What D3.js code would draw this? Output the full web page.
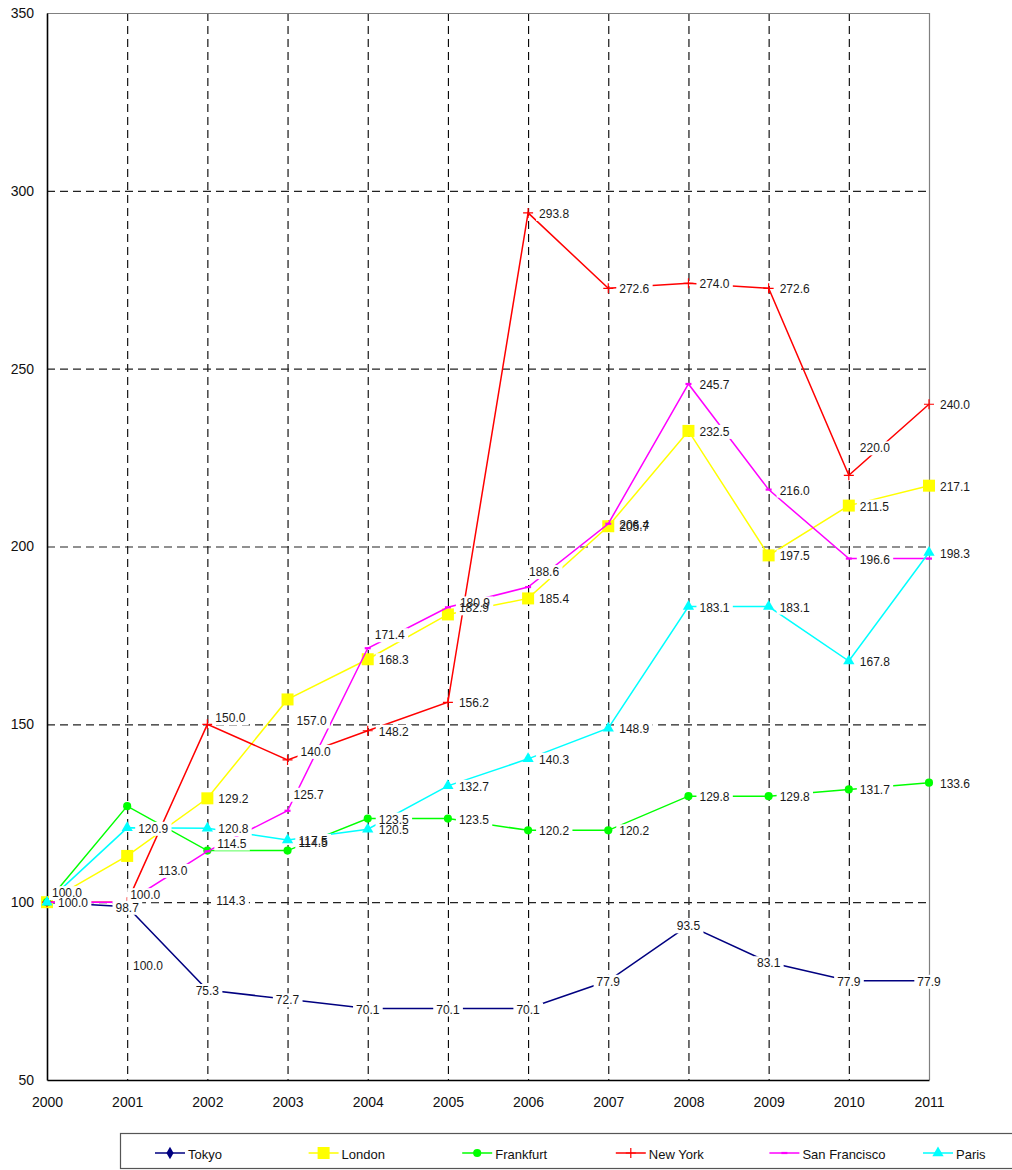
<!DOCTYPE html>
<html>
<head>
<meta charset="utf-8">
<script src="https://cdn.jsdelivr.net/npm/d3@7"></script>
<style>
  body { margin: 0; background: #fff; }
  svg { display: block; }
  text { font-family: "Liberation Sans", Arial, sans-serif; }
</style>
</head>
<body>
<svg id="chart" width="1012" height="1170"></svg>
<script>
// ---- data -------------------------------------------------------------
const years = [2000, 2001, 2002, 2003, 2004, 2005, 2006, 2007, 2008, 2009, 2010, 2011];
const yTicks = [50, 100, 150, 200, 250, 300, 350];

const tokyo        = [100.0, 98.7, 75.3, 72.7, 70.1, 70.1, 70.1, 77.9, 93.5, 83.1, 77.9, 77.9];
const london       = [100.0, 113.0, 129.2, 157.0, 168.3, 180.9, 185.4, 205.7, 232.5, 197.5, 211.5, 217.1];
const frankfurt    = [100.0, 127.0, 114.5, 114.5, 123.5, 123.5, 120.2, 120.2, 129.8, 129.8, 131.7, 133.6];
const newYork      = [100.0, 100.0, 150.0, 140.0, 148.2, 156.2, 293.8, 272.6, 274.0, 272.6, 220.0, 240.0];
const sanFrancisco = [100.0, 100.0, 114.3, 125.7, 171.4, 182.9, 188.6, 206.4, 245.7, 216.0, 196.6, 196.6];
const paris        = [100.0, 120.9, 120.8, 117.5, 120.5, 132.7, 140.3, 148.9, 183.1, 183.1, 167.8, 198.3];

const seriesNames  = ["Tokyo", "London", "Frankfurt", "New York", "San Francisco", "Paris"];
const seriesValues = [tokyo, london, frankfurt, newYork, sanFrancisco, paris];

// ---- styling / layout -------------------------------------------------
const seriesColors  = ["#000080", "#FFFF00", "#00FF00", "#FF0000", "#FF00FF", "#00FFFF"];
const seriesMarkers = ["diamond", "square", "circle", "plus", "dash", "triangle"];

// value labels sit right of the point by default (Tokyo: centred on it);
// a few are moved to keep them readable
const labelNudges = [
  { series: "Tokyo",         year: 2000, dx: 101, dy: 64 },
  { series: "Frankfurt",     year: 2000, dx: 5,   dy: -9 },
  { series: "Frankfurt",     year: 2002, dx: 10,  dy: -7 },
  { series: "Frankfurt",     year: 2003, dx: 11,  dy: -8 },
  { series: "London",        year: 2001, dx: 31,  dy: 15 },
  { series: "London",        year: 2003, dx: 9,   dy: 22 },
  { series: "London",        year: 2005, dx: 12,  dy: -11 },
  { series: "New York",      year: 2001, dx: 3,   dy: -7 },
  { series: "New York",      year: 2002, dx: 8,   dy: -6 },
  { series: "New York",      year: 2003, dx: 13,  dy: -8 },
  { series: "New York",      year: 2010, dx: 11,  dy: -27 },
  { series: "San Francisco", year: 2002, dx: 9,   dy: 50 },
  { series: "San Francisco", year: 2003, dx: 6,   dy: -16 },
  { series: "San Francisco", year: 2004, dx: 7,   dy: -13 },
  { series: "San Francisco", year: 2006, dx: 1,   dy: -15 }
];
// labels left off where they would only repeat one already drawn
const hiddenLabels = [
  { series: "Frankfurt",     year: 2001 },
  { series: "London",        year: 2000 },
  { series: "New York",      year: 2000 },
  { series: "San Francisco", year: 2000 },
  { series: "San Francisco", year: 2001 },
  { series: "San Francisco", year: 2011 }
];

const plot = { left: 47, right: 929, top: 13, bottom: 1080 };

const svg = d3.select("#chart");

const x = d3.scalePoint().domain(years).range([plot.left, plot.right]).padding(0);
const y = d3.scaleLinear().domain([50, 350]).range([plot.bottom, plot.top]);

// ---- grid -------------------------------------------------------------
const grid = svg.append("g");
grid.selectAll("line.v")
  .data(years.slice(1, -1))
  .join("line")
  .attr("x1", d => x(d) + 0.5).attr("x2", d => x(d) + 0.5)
  .attr("y1", plot.top).attr("y2", plot.bottom)
  .attr("stroke", "#000").attr("stroke-width", 1.1)
  .attr("stroke-dasharray", "8,5");
grid.selectAll("line.h")
  .data(yTicks.slice(1, -1))
  .join("line")
  .attr("x1", plot.left).attr("x2", plot.right)
  .attr("y1", d => y(d) + 0.5).attr("y2", d => y(d) + 0.5)
  .attr("stroke", "#222").attr("stroke-width", 1.1)
  .attr("stroke-dasharray", "8,5");

// plot frame (top / right)
svg.append("path")
  .attr("d", `M${plot.left},${plot.top + 0.5}H${plot.right + 0.5}V${plot.bottom}`)
  .attr("fill", "none").attr("stroke", "#808080").attr("stroke-width", 1.2);

// ---- axes -------------------------------------------------------------
const yAxis = svg.append("g")
  .attr("transform", `translate(${plot.left},0)`)
  .call(d3.axisLeft(y).tickValues(yTicks).tickSize(0).tickPadding(13).tickFormat(d3.format("d")));
yAxis.select(".domain").attr("stroke", "#000").attr("stroke-width", 1.6);
yAxis.selectAll("text").attr("font-size", 14).attr("fill", "#111")
  .attr("font-family", "'Liberation Sans', Arial, sans-serif");

const xAxis = svg.append("g")
  .attr("transform", `translate(0,${plot.bottom})`)
  .call(d3.axisBottom(x).tickSize(0).tickPadding(17).tickFormat(d3.format("d")));
xAxis.select(".domain").attr("stroke", "#000").attr("stroke-width", 1.6);
xAxis.selectAll("text").attr("font-size", 14).attr("fill", "#111")
  .attr("font-family", "'Liberation Sans', Arial, sans-serif");

// ---- markers ----------------------------------------------------------
function drawMarker(sel, kind, color) {
  if (kind === "plus") {
    sel.append("path").attr("d", "M-5,0H5M0,-5V5")
      .attr("stroke", color).attr("stroke-width", 1.2).attr("fill", "none");
  } else if (kind === "dash") {
    sel.append("path").attr("d", "M-3,0H3")
      .attr("stroke", color).attr("stroke-width", 2.2).attr("fill", "none");
  } else {
    const type = { diamond: d3.symbolDiamond, square: d3.symbolSquare,
                   circle: d3.symbolCircle, triangle: d3.symbolTriangle }[kind];
    const size = { diamond: 45, square: 144, circle: 52, triangle: 55 }[kind];
    sel.append("path").attr("d", d3.symbol(type, size)()).attr("fill", color);
  }
}

// ---- lines + markers --------------------------------------------------
const line = d3.line().x((d, i) => x(years[i])).y(d => y(d));
const linesG = svg.append("g");
seriesValues.forEach((vals, s) => {
  const g = linesG.append("g");
  g.append("path").datum(vals)
    .attr("d", line)
    .attr("fill", "none")
    .attr("stroke", seriesColors[s])
    .attr("stroke-width", 1.5);
  vals.forEach((v, i) => {
    const m = g.append("g").attr("transform", `translate(${x(years[i])},${y(v)})`);
    drawMarker(m, seriesMarkers[s], seriesColors[s]);
  });
});

// ---- value labels -----------------------------------------------------
const bgG = svg.append("g");
const txtG = svg.append("g");
const fmt = d3.format(".1f");
seriesValues.forEach((vals, s) => {
  const name = seriesNames[s];
  vals.forEach((v, i) => {
    const yr = years[i];
    if (hiddenLabels.some(h => h.series === name && h.year === yr)) return;
    const nudge = labelNudges.find(n => n.series === name && n.year === yr);
    const centred = name === "Tokyo";
    let dx = centred ? 0 : 11, dy = 1;
    if (nudge) { dx = nudge.dx; dy = nudge.dy; }
    const t = txtG.append("text")
      .attr("x", x(yr) + dx)
      .attr("y", y(v) + dy)
      .attr("text-anchor", centred ? "middle" : "start")
      .attr("dominant-baseline", "central")
      .attr("font-size", 12)
      .attr("fill", "#1a1a1a")
      .text(fmt(v));
    const b = t.node().getBBox();
    bgG.append("rect")
      .attr("x", b.x - 3).attr("y", b.y)
      .attr("width", b.width + 6).attr("height", b.height)
      .attr("fill", "#fff");
  });
});

// ---- legend -----------------------------------------------------------
const legend = svg.append("g");
legend.append("rect")
  .attr("x", 120.5).attr("y", 1133.5).attr("width", 900).attr("height", 35)
  .attr("fill", "#fff").attr("stroke", "#555").attr("stroke-width", 1.2);
const legendX = d3.scalePoint().domain(seriesNames).range([170, 938]);
seriesNames.forEach((name, s) => {
  const cx = legendX(name), cy = 1153;
  const g = legend.append("g");
  g.append("line").attr("x1", cx - 15).attr("x2", cx + 15)
    .attr("y1", cy).attr("y2", cy)
    .attr("stroke", seriesColors[s]).attr("stroke-width", 1.5);
  const m = g.append("g").attr("transform", `translate(${cx},${cy})`);
  drawMarker(m, seriesMarkers[s], seriesColors[s]);
  g.append("text").attr("x", cx + 18).attr("y", cy + 1)
    .attr("dominant-baseline", "central")
    .attr("font-size", 13).attr("fill", "#111")
    .text(name);
});
</script>
</body>
</html>
